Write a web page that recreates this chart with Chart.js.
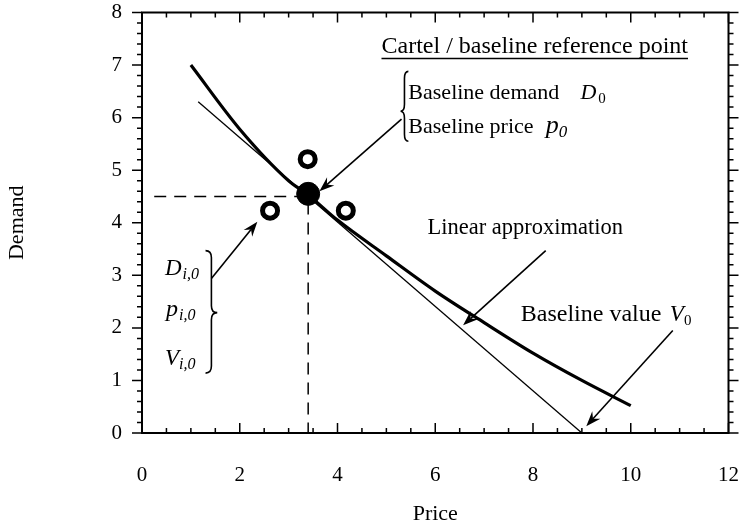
<!DOCTYPE html>
<html lang="en">
<head>
<meta charset="UTF-8">
<title>Demand vs Price</title>
<script src="https://cdn.jsdelivr.net/npm/chart.js@4.4.0/dist/chart.umd.min.js"></script>
<style>
  body { margin: 0; background: #fff; }
  #wrap { width: 741px; height: 527px; }
</style>
</head>
<body>
<div id="wrap"><canvas id="chart"></canvas></div>
<script>
// demand curve (thick)
const curvePrice  = [1, 2, 3, 3.4, 4, 5, 6, 7, 8, 9, 10];
const curveDemand = [7.0, 5.78, 4.8, 4.53, 4.05, 3.37, 2.7, 2.1, 1.52, 1.0, 0.52];
// linear approximation (thin)
const linePrice  = [1.15, 9.0];
const lineDemand = [6.3, 0.0];
// baseline point and the three firm points
const basePrice = [3.4];
const baseDemand = [4.55];
const ringPrice  = [3.39, 2.62, 4.17];
const ringDemand = [5.21, 4.23, 4.23];
// dashed guides
const guideX = [0.25, 3.4, 3.4];
const guideY = [4.5, 4.5, 0];

const FONT = '"Liberation Serif", "Times New Roman", serif';

const pts = (xs, ys) => xs.map((v, i) => ({x: v, y: ys[i]}));

// annotations, in data units; sub = subscript drawn right after the main glyph
const texts = [
  {t: 'Baseline demand', x: 5.45, y: 6.35, size: 22},
  {t: 'D', x: 8.97, y: 6.35, size: 22, it: true, sub: '0', subSize: 15, subIt: false, gap: 2},
  {t: 'Baseline price', x: 5.45, y: 5.71, size: 22},
  {t: 'p', x: 8.26, y: 5.71, size: 26, it: true, sub: '0', subSize: 17, subIt: true, gap: 0},
  {t: 'Linear approximation', x: 5.84, y: 3.79, size: 22.5},
  {t: 'Baseline value', x: 7.75, y: 2.14, size: 24},
  {t: 'V', x: 10.80, y: 2.14, size: 23, it: true, sub: '0', subSize: 15, subIt: false, gap: 0},
  {t: 'D', x: 0.47, y: 3.01, size: 23, it: true, sub: 'i,0', subSize: 16, subIt: true, gap: 1},
  {t: 'p', x: 0.49, y: 2.22, size: 24, it: true, sub: 'i,0', subSize: 16, subIt: true, gap: 1},
  {t: 'V', x: 0.47, y: 1.29, size: 23, it: true, sub: 'i,0', subSize: 16, subIt: true, gap: 0}
];
const heading = {t: 'Cartel / baseline reference point', x: 4.90, y: 7.22, size: 24};
const arrows = [
  [5.31, 5.97, 3.63, 4.60],
  [8.26, 3.47, 6.57, 2.05],
  [10.86, 1.95, 9.09, 0.13],
  [1.42, 2.94, 2.36, 4.02]
];
// braces: end x, tip x, top y, tip y, bottom y
const braces = [
  [5.45, 5.29, 6.88, 6.12, 5.55],
  [1.30, 1.54, 3.47, 2.29, 1.14]
];

function arrow(ctx, x1, y1, x2, y2) {
  const a = Math.atan2(y2 - y1, x2 - x1), c = Math.cos(a), s = Math.sin(a);
  const L = 15, W = 5.5, N = 10;
  ctx.lineWidth = 1.6;
  ctx.beginPath();
  ctx.moveTo(x1, y1);
  ctx.lineTo(x2 - N * c, y2 - N * s);
  ctx.stroke();
  ctx.beginPath();
  ctx.moveTo(x2, y2);
  ctx.lineTo(x2 - L * c + W * s, y2 - L * s - W * c);
  ctx.lineTo(x2 - N * c, y2 - N * s);
  ctx.lineTo(x2 - L * c - W * s, y2 - L * s + W * c);
  ctx.closePath();
  ctx.fill();
}

function brace(ctx, xe, xt, yt, ym, yb) {
  const xb = (xe + xt) / 2, r = 7;
  ctx.lineWidth = 1.6;
  ctx.beginPath();
  ctx.moveTo(xe, yt);
  ctx.quadraticCurveTo(xb, yt, xb, yt + r);
  ctx.lineTo(xb, ym - r);
  ctx.quadraticCurveTo(xb, ym, xt, ym);
  ctx.quadraticCurveTo(xb, ym, xb, ym + r);
  ctx.lineTo(xb, yb - r);
  ctx.quadraticCurveTo(xb, yb, xe, yb);
  ctx.stroke();
}

const overlay = {
  id: 'overlay',
  afterDraw(chart) {
    const {ctx, chartArea: a, scales: {x, y}} = chart;
    const px = v => x.getPixelForValue(v), py = v => y.getPixelForValue(v);
    ctx.save();
    ctx.strokeStyle = '#000';
    ctx.fillStyle = '#000';
    ctx.lineWidth = 2;
    ctx.strokeRect(a.left, a.top, a.right - a.left, a.bottom - a.top);

    // inward ticks top/bottom, outward ticks left/right
    ctx.lineWidth = 1.5;
    ctx.beginPath();
    for (let i = 0; i <= 24; i++) {
      const X = px(i * 0.5), len = i % 4 === 0 ? 10 : 5;
      ctx.moveTo(X, a.bottom); ctx.lineTo(X, a.bottom - len);
      ctx.moveTo(X, a.top); ctx.lineTo(X, a.top + len);
    }
    for (let i = 0; i <= 40; i++) {
      const Y = py(i * 0.2), len = i % 5 === 0 ? 10 : 5;
      ctx.moveTo(a.left, Y); ctx.lineTo(a.left - len, Y);
      ctx.moveTo(a.right, Y); ctx.lineTo(a.right + len, Y);
    }
    ctx.stroke();

    arrows.forEach(r => arrow(ctx, px(r[0]), py(r[1]), px(r[2]), py(r[3])));
    braces.forEach(b => brace(ctx, px(b[0]), px(b[1]), py(b[2]), py(b[3]), py(b[4])));

    ctx.textAlign = 'left';
    ctx.textBaseline = 'alphabetic';
    texts.forEach(t => {
      const X = px(t.x), Y = py(t.y);
      ctx.font = (t.it ? 'italic ' : '') + t.size + 'px ' + FONT;
      ctx.fillText(t.t, X, Y);
      if (t.sub) {
        const w = ctx.measureText(t.t).width;
        ctx.font = (t.subIt ? 'italic ' : '') + t.subSize + 'px ' + FONT;
        ctx.fillText(t.sub, X + w + t.gap, Y + 4);
      }
    });
    ctx.font = heading.size + 'px ' + FONT;
    const hx = px(heading.x), hy = py(heading.y);
    ctx.fillText(heading.t, hx, hy);
    const w = ctx.measureText(heading.t).width;
    ctx.lineWidth = 1.5;
    ctx.beginPath();
    ctx.moveTo(hx, hy + 5); ctx.lineTo(hx + w, hy + 5);
    ctx.stroke();
    ctx.restore();
  }
};

new Chart(document.getElementById('chart'), {
  type: 'scatter',
  data: {
    datasets: [
      {data: pts(basePrice, baseDemand), pointRadius: 11.5, backgroundColor: '#000', borderColor: '#000', order: 0},
      {data: pts(ringPrice, ringDemand), pointRadius: 7.5, borderWidth: 5, backgroundColor: '#fff', borderColor: '#000', order: 1},
      {data: pts(curvePrice, curveDemand), showLine: true, borderColor: '#000', borderWidth: 3.2, pointRadius: 0,
       cubicInterpolationMode: 'monotone', order: 2},
      {data: pts(linePrice, lineDemand), showLine: true, borderColor: '#000', borderWidth: 1.3, pointRadius: 0, order: 3},
      {data: pts(guideX, guideY), showLine: true, borderColor: '#000', borderWidth: 1.5, borderDash: [12, 8],
       pointRadius: 0, order: 4}
    ]
  },
  plugins: [overlay],
  options: {
    responsive: true,
    maintainAspectRatio: false,
    animation: false,
    layout: {padding: {top: 11, right: 9, left: 0, bottom: 0}},
    plugins: {legend: {display: false}, tooltip: {enabled: false}},
    scales: {
      x: {
        type: 'linear', min: 0, max: 12,
        ticks: {stepSize: 2, color: '#000', padding: 30, font: {family: FONT, size: 21}},
        grid: {display: false, drawTicks: false},
        border: {display: false},
        title: {display: true, text: 'Price', color: '#000', font: {family: FONT, size: 22}, padding: {top: 0, bottom: 0}},
        afterFit(s) { s.height = 94; s.paddingLeft = 0; s.paddingRight = 0; }
      },
      y: {
        type: 'linear', min: 0, max: 8,
        ticks: {stepSize: 1, color: '#000', padding: 20, font: {family: FONT, size: 21}},
        grid: {display: false, drawTicks: false},
        border: {display: false},
        title: {display: true, text: 'Demand', color: '#000', font: {family: FONT, size: 22}, padding: {top: 4, bottom: 0}},
        afterFit(s) { s.width = 142; s.paddingTop = 0; s.paddingBottom = 0; }
      }
    }
  }
});
</script>
</body>
</html>
